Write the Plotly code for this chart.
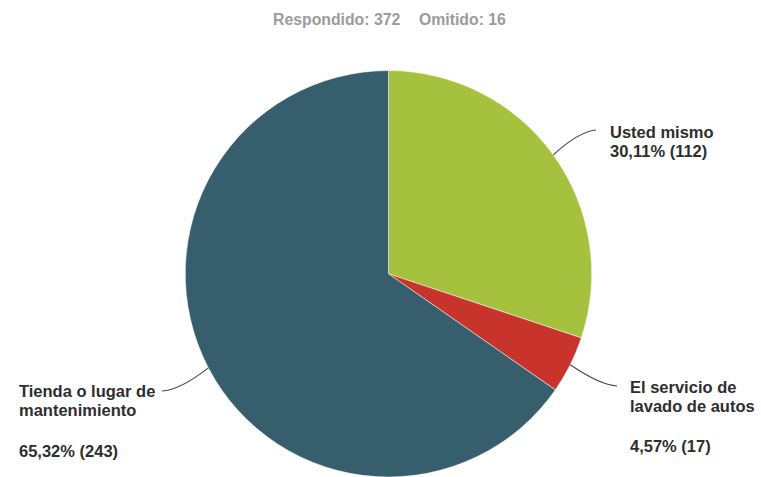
import math
import plotly.graph_objects as go

# Survey answers
categories = ["Usted mismo", "El servicio de lavado de autos", "Tienda o lugar de mantenimiento"]
label_lines = [["Usted mismo"], ["El servicio de", "lavado de autos"], ["Tienda o lugar de", "mantenimiento"]]
counts = [112, 17, 243]
answered = 372
skipped = 16
colors = ["#A6C13D", "#C8342B", "#365E6C"]

W, H = 761, 477
DOM_X = [0.2105, 0.8105]
DOM_Y = [0.0, 0.852]


def px(x, y):
    """pixel -> paper coordinates"""
    return x / W, 1 - y / H


def pct_text(c):
    return f"{c / answered * 100:.2f}".replace(".", ",") + f"% ({c})"


fig = go.Figure(go.Pie(
    labels=categories,
    values=counts,
    sort=False,
    direction="clockwise",
    rotation=0,
    marker=dict(colors=colors, line=dict(color="white", width=0.5)),
    textinfo="none",
    hoverinfo="skip",
    domain=dict(x=DOM_X, y=DOM_Y),
))

# pie geometry in pixels
cx = (DOM_X[0] + DOM_X[1]) / 2 * W
cy = (1 - (DOM_Y[0] + DOM_Y[1]) / 2) * H
r = min((DOM_X[1] - DOM_X[0]) * W, (DOM_Y[1] - DOM_Y[0]) * H) / 2

# label layout: left x, line centre ys, percentage centre y, leader end point
label_pos = [
    dict(x=608, ys=[131.9], py=150.9, end=(596, 130), ctrl=(578, 132)),
    dict(x=628, ys=[386.9, 405.9], py=445.9, end=(617, 386), ctrl=(600, 385)),
    dict(x=17, ys=[390.9, 409.9], py=450.9, end=(162, 391), ctrl=(180, 390)),
]

font_lbl = dict(family="Liberation Sans, Arial, sans-serif", size=16.5, color="#2E2E2E")
annotations = []
shapes = []
total = sum(counts)
cum = 0
for c, lines, pos in zip(counts, label_lines, label_pos):
    mid = (cum + c / 2) / total * 2 * math.pi
    cum += c
    sx = cx + r * math.sin(mid)
    sy = cy - r * math.cos(mid)
    x0, y0 = px(sx, sy)
    qx, qy = px(*pos["ctrl"])
    x1, y1 = px(*pos["end"])
    shapes.append(dict(type="path", xref="paper", yref="paper",
                       path=f"M {x0},{y0} Q {qx},{qy} {x1},{y1}",
                       line=dict(color="#4A4A4A", width=1.2)))
    for txt, ly in zip(lines, pos["ys"]):
        ax, ay = px(pos["x"], ly)
        annotations.append(dict(text=f"<b>{txt}</b>", x=ax, y=ay, xref="paper", yref="paper",
                                xanchor="left", yanchor="middle", showarrow=False, font=font_lbl))
    ax, ay = px(pos["x"], pos["py"])
    annotations.append(dict(text=f"<b>{pct_text(c)}</b>", x=ax, y=ay, xref="paper", yref="paper",
                            xanchor="left", yanchor="middle", showarrow=False, font=font_lbl))

# header counts
font_hdr = dict(family="Liberation Sans, Arial, sans-serif", size=15.8, color="#9B9B9B")
for txt, hx in [(f"Respondido: {answered}", 271), (f"Omitido: {skipped}", 417)]:
    ax, ay = px(hx, 19.4)
    annotations.append(dict(text=f"<b>{txt}</b>", x=ax, y=ay, xref="paper", yref="paper",
                            xanchor="left", yanchor="middle", showarrow=False, font=font_hdr))

fig.update_layout(
    width=W, height=H,
    margin=dict(l=0, r=0, t=0, b=0),
    paper_bgcolor="white",
    plot_bgcolor="white",
    showlegend=False,
    annotations=annotations,
    shapes=shapes,
)

fig.write_html("out.html")
